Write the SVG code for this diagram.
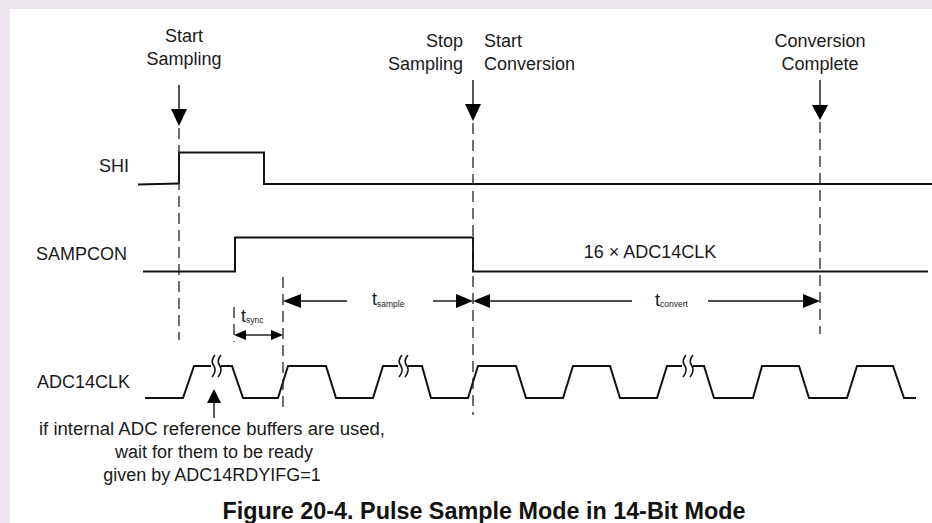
<svg xmlns="http://www.w3.org/2000/svg" width="932" height="523" viewBox="0 0 932 523">
<style>
.lbl{font-family:"Liberation Sans",Arial,sans-serif;font-size:18px;fill:#1a1a1a}
.sub{font-size:8.5px}
.sig{fill:none;stroke:#111;stroke-width:2;stroke-linejoin:miter}
.dash{fill:none;stroke:#222;stroke-width:1.3;stroke-dasharray:11 6}
.ln{fill:none;stroke:#111;stroke-width:1.4}
.hd{fill:#000}
.brk{fill:none;stroke:#111;stroke-width:1.6}
.cap{font-family:"Liberation Sans",Arial,sans-serif;font-size:23px;font-weight:bold;fill:#111}
</style>
<defs>
<path id="wave" d="M2,-11 Q-3,-5 1,0 Q4,5 -1,11"/>
</defs>
<rect x="0" y="0" width="932" height="523" fill="#eee6ee"/>
<rect x="10" y="9" width="922" height="514" fill="#ffffff"/>

<g id="label-start-sampling">
<text class="lbl" x="184" y="42" text-anchor="middle">Start</text>
<text class="lbl" x="184" y="65" text-anchor="middle">Sampling</text>
</g>
<g id="label-stop-sampling">
<text class="lbl" x="463" y="47" text-anchor="end">Stop</text>
<text class="lbl" x="463" y="70" text-anchor="end">Sampling</text>
</g>
<g id="label-start-conversion">
<text class="lbl" x="484" y="47">Start</text>
<text class="lbl" x="484" y="70">Conversion</text>
</g>
<g id="label-conversion-complete">
<text class="lbl" x="820" y="47" text-anchor="middle">Conversion</text>
<text class="lbl" x="820" y="70" text-anchor="middle">Complete</text>
</g>

<g id="shi">
<text class="lbl" x="129" y="172" text-anchor="end">SHI</text>
<path class="sig" d="M138,184.5 L179,183.5" stroke-width="1.6"/>
<path class="sig" d="M179,184 L179,152.5 L264,152.5 L264,184 L932,184"/>
</g>

<g id="sampcon">
<text class="lbl" x="36" y="260">SAMPCON</text>
<path class="sig" d="M143,271.5 L235,271.5 L235,237.5 L473,237.5 L473,271.5 L928,271.5"/>
<text class="lbl" x="650" y="258" text-anchor="middle">16 × ADC14CLK</text>
</g>

<g id="adc14clk">
<text class="lbl" x="37" y="388">ADC14CLK</text>
<path class="sig" d="M145,398 L183,398 L194,366 L211,366"/>
<path class="sig" d="M221,366 L232,366 L243,398 L278,398 L288,366 L326,366 L336,398 L373,398 L383,366 L398,366"/>
<path class="sig" d="M408,366 L422,366 L431,398 L468,398 L478,366 L516,366 L526,398 L563,398 L573,366 L610,366 L620,398 L657,398 L667,366 L682,366"/>
<path class="sig" d="M693,366 L704,366 L714,398 L753,398 L762,366 L799,366 L809,398 L847,398 L857,366 L893,366 L904,398 L916,398"/>
<use href="#wave" class="brk" x="213" y="366"/>
<use href="#wave" class="brk" x="219" y="366"/>
<use href="#wave" class="brk" x="400" y="366"/>
<use href="#wave" class="brk" x="406" y="366"/>
<use href="#wave" class="brk" x="684" y="366"/>
<use href="#wave" class="brk" x="691" y="366"/>
</g>

<g id="note">
<text class="lbl" x="212" y="435" text-anchor="middle" textLength="346" lengthAdjust="spacingAndGlyphs">if internal ADC reference buffers are used,</text>
<text class="lbl" x="214" y="458" text-anchor="middle">wait for them to be ready</text>
<text class="lbl" x="212" y="481" text-anchor="middle">given by ADC14RDYIFG=1</text>
</g>

<g id="timing-labels">
<text class="lbl" x="241" y="322">t<tspan class="sub" font-size="9" dy="1">sync</tspan></text>
<text class="lbl" x="372" y="305">t<tspan class="sub" dy="2">sample</tspan></text>
<text class="lbl" x="655" y="306">t<tspan class="sub" dy="1">convert</tspan></text>
</g>

<g id="connectors">
<line class="ln" x1="179" y1="85" x2="179" y2="110"/>
<polygon class="hd" points="171,109 187,109 179,126"/>
<line class="ln" x1="473" y1="80" x2="473" y2="105"/>
<polygon class="hd" points="465,104 481,104 473,121"/>
<line class="ln" x1="820" y1="80" x2="820" y2="106"/>
<polygon class="hd" points="812,105 828,105 820,120"/>
<line class="dash" x1="179" y1="128" x2="179" y2="340"/>
<line class="dash" x1="473" y1="123" x2="473" y2="415"/>
<line class="dash" x1="820" y1="122" x2="820" y2="334"/>
<line class="dash" x1="283" y1="277" x2="283" y2="413"/>
<line class="dash" x1="234" y1="307" x2="234" y2="342" stroke-dasharray="12 5"/>
<line class="ln" x1="300" y1="301" x2="347" y2="301"/>
<polygon class="hd" points="283,301 301,294 301,308"/>
<line class="ln" x1="433" y1="301" x2="458" y2="301"/>
<polygon class="hd" points="473,301 456,294 456,308"/>
<line class="ln" x1="489" y1="301" x2="632" y2="301"/>
<polygon class="hd" points="473,301 490,294 490,308"/>
<line class="ln" x1="708" y1="301" x2="804" y2="301"/>
<polygon class="hd" points="820,301 803,294 803,308"/>
<line class="ln" x1="244" y1="335" x2="273" y2="335"/>
<polygon class="hd" points="234,335 246,330 246,340"/>
<polygon class="hd" points="283,335 271,330 271,340"/>
<line class="ln" x1="214" y1="402" x2="214" y2="418"/>
<polygon class="hd" points="207,403 221,403 214,389"/>
</g>

<g id="caption">
<text class="cap" x="484" y="519" text-anchor="middle" textLength="523" lengthAdjust="spacingAndGlyphs">Figure 20-4. Pulse Sample Mode in 14-Bit Mode</text>
</g>
</svg>
